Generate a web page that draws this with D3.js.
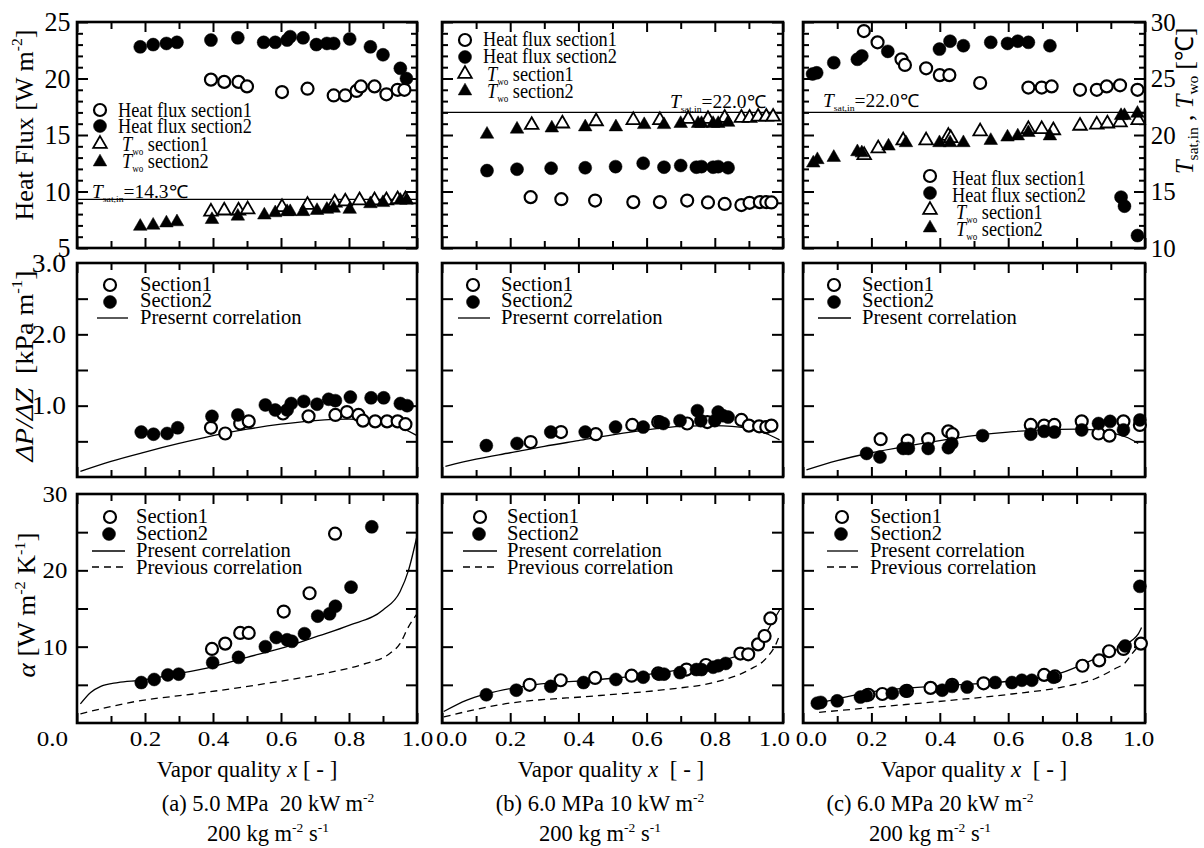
<!DOCTYPE html>
<html><head><meta charset="utf-8">
<script src="https://cdn.jsdelivr.net/npm/d3@7"></script>
<style>
body{margin:0;background:#fff;}
svg text{font-family:"Liberation Serif","Times New Roman",serif;fill:#000;white-space:pre;}
</style></head><body>
<svg id="c" width="1204" height="848" font-family="Liberation Serif"></svg>
<script>
// ================= DATA =================
const xLabels = [0.0, 0.2, 0.4, 0.6, 0.8, 1.0];
const hfTicks = [5, 10, 15, 20, 25];
const tTicks = [10, 15, 20, 25, 30];
const dpTicks = [1.0, 2.0, 3.0];
const alphaTicks = [10, 20, 30];
const tsatValues = [14.3, 22.0, 22.0];
const captionLine1 = ["(a) 5.0 MPa  20 kW m", "(b) 6.0 MPa 10 kW m", "(c) 6.0 MPa 20 kW m"];
const captionLine2 = "200 kg m";

// Row 1 : heat flux [kW m-2] (left scale 5-25) and wall temperature [C] (right scale 10-30)
const hfA1 = [[0.394,19.9],[0.433,19.7],[0.475,19.7],[0.50,19.3],[0.603,18.8],[0.678,19.1],[0.755,18.5],[0.789,18.5],[0.822,18.9],[0.835,19.3],[0.875,19.3],[0.910,18.6],[0.943,19.0],[0.963,19.0]];
const hfA2 = [[0.186,22.8],[0.224,23.0],[0.263,23.1],[0.294,23.2],[0.394,23.4],[0.473,23.6],[0.549,23.2],[0.583,23.2],[0.618,23.4],[0.627,23.7],[0.665,23.6],[0.704,23.0],[0.735,23.1],[0.755,23.1],[0.802,23.5],[0.863,22.8],[0.900,22.1],[0.951,20.9],[0.969,20.0]];
const twA1 = [[0.394,13.3],[0.433,13.4],[0.475,13.4],[0.502,13.5],[0.603,13.7],[0.678,13.9],[0.758,14.1],[0.789,14.2],[0.831,14.3],[0.875,14.3],[0.910,14.3],[0.943,14.4],[0.966,14.4]];
const twA2 = [[0.186,12.0],[0.224,12.1],[0.263,12.3],[0.294,12.4],[0.397,12.6],[0.473,12.9],[0.551,13.0],[0.583,13.2],[0.618,13.3],[0.627,13.3],[0.665,13.3],[0.706,13.4],[0.735,13.5],[0.755,13.6],[0.802,13.5],[0.863,14.0],[0.900,14.1],[0.951,14.3],[0.969,14.3]];

const hfB1 = [[0.26,9.5],[0.35,9.32],[0.449,9.2],[0.561,9.06],[0.639,9.06],[0.719,9.2],[0.78,9.03],[0.829,8.9],[0.878,8.8],[0.902,9.0],[0.932,9.06],[0.951,9.06],[0.966,9.03]];
const hfB2 = [[0.132,11.85],[0.22,11.97],[0.32,12.06],[0.42,12.1],[0.509,12.2],[0.59,12.5],[0.651,12.15],[0.70,12.3],[0.746,12.15],[0.761,12.2],[0.795,12.15],[0.81,12.2],[0.839,12.1]];
const twB1 = [[0.263,20.97],[0.353,21.1],[0.452,21.3],[0.561,21.4],[0.639,21.4],[0.722,21.5],[0.78,21.5],[0.829,21.6],[0.878,21.6],[0.902,21.6],[0.927,21.7],[0.951,21.7],[0.971,21.7]];
const twB2 = [[0.132,20.15],[0.22,20.6],[0.322,20.7],[0.42,20.8],[0.51,20.8],[0.593,21.0],[0.651,21.0],[0.70,21.1],[0.751,21.1],[0.761,21.1],[0.795,21.1],[0.81,21.1],[0.839,21.2]];

const hfC1 = [[0.178,24.2],[0.218,23.2],[0.288,21.7],[0.298,21.2],[0.36,20.9],[0.40,20.3],[0.428,20.3],[0.518,19.6],[0.659,19.2],[0.698,19.2],[0.727,19.3],[0.81,19.0],[0.859,19.0],[0.888,19.3],[0.927,19.4],[0.978,19.0]];
const hfC2 = [[0.028,20.4],[0.04,20.5],[0.09,21.4],[0.159,21.7],[0.172,22.0],[0.248,22.4],[0.399,22.6],[0.43,23.3],[0.469,22.9],[0.549,23.2],[0.598,23.1],[0.628,23.3],[0.659,23.2],[0.722,22.9],[0.93,9.5],[0.94,8.7],[0.978,6.1]];
const twC1 = [[0.179,18.3],[0.22,18.9],[0.293,19.6],[0.36,19.6],[0.425,20.0],[0.432,19.8],[0.518,20.4],[0.659,20.6],[0.698,20.6],[0.732,20.5],[0.81,20.9],[0.859,21.0],[0.89,21.1],[0.927,21.2],[0.98,21.4]];
const twC2 = [[0.03,17.6],[0.042,17.9],[0.09,18.1],[0.159,18.6],[0.172,18.5],[0.25,19.1],[0.301,19.4],[0.399,19.4],[0.43,19.4],[0.469,19.4],[0.549,19.6],[0.598,19.9],[0.628,20.0],[0.659,20.3],[0.722,20.0],[0.93,21.8],[0.94,21.8],[0.978,22.0]];

// Row 2 : pressure gradient [kPa m-1]
const dpA1 = [[0.394,0.69],[0.436,0.61],[0.48,0.75],[0.505,0.78],[0.606,0.89],[0.681,0.85],[0.76,0.87],[0.794,0.91],[0.828,0.87],[0.841,0.79],[0.877,0.78],[0.912,0.78],[0.943,0.78],[0.966,0.74]];
const dpA2 = [[0.189,0.63],[0.225,0.60],[0.265,0.61],[0.296,0.69],[0.397,0.85],[0.473,0.87],[0.554,1.01],[0.583,0.94],[0.618,0.94],[0.630,1.03],[0.667,1.06],[0.706,1.02],[0.74,1.09],[0.76,1.07],[0.804,1.12],[0.865,1.11],[0.902,1.11],[0.951,1.03],[0.971,1.0]];
const dpCorrA = [[0.01,0.08],[0.1,0.22],[0.2,0.35],[0.3,0.47],[0.4,0.58],[0.5,0.67],[0.6,0.74],[0.7,0.79],[0.8,0.81],[0.85,0.80],[0.9,0.77],[0.95,0.70],[1.0,0.58]];
const dpB1 = [[0.26,0.49],[0.349,0.63],[0.451,0.60],[0.558,0.73],[0.634,0.77],[0.719,0.75],[0.778,0.77],[0.878,0.80],[0.9,0.72],[0.93,0.71],[0.951,0.70],[0.966,0.72]];
const dpB2 = [[0.13,0.44],[0.22,0.47],[0.319,0.63],[0.42,0.63],[0.509,0.70],[0.59,0.70],[0.639,0.77],[0.649,0.75],[0.698,0.79],[0.749,0.93],[0.759,0.79],[0.8,0.79],[0.81,0.91],[0.824,0.86],[0.839,0.84]];
const dpCorrB = [[0.01,0.15],[0.1,0.25],[0.2,0.34],[0.3,0.43],[0.4,0.51],[0.5,0.59],[0.6,0.66],[0.7,0.71],[0.8,0.72],[0.85,0.71],[0.9,0.68],[0.95,0.61],[0.99,0.52]];
const dpC1 = [[0.227,0.53],[0.306,0.51],[0.366,0.53],[0.425,0.64],[0.437,0.60],[0.666,0.73],[0.705,0.72],[0.735,0.73],[0.815,0.78],[0.864,0.61],[0.896,0.58],[0.937,0.78],[0.985,0.73]];
const dpC2 = [[0.186,0.33],[0.225,0.28],[0.293,0.40],[0.308,0.40],[0.366,0.40],[0.425,0.41],[0.435,0.47],[0.525,0.58],[0.666,0.60],[0.705,0.64],[0.735,0.63],[0.815,0.66],[0.864,0.75],[0.898,0.78],[0.937,0.66],[0.985,0.80]];
const dpCorrC = [[0.01,0.10],[0.1,0.23],[0.2,0.34],[0.3,0.43],[0.4,0.51],[0.5,0.58],[0.6,0.63],[0.7,0.66],[0.8,0.67],[0.85,0.66],[0.9,0.62],[0.95,0.55],[0.98,0.47]];

// Row 3 : heat transfer coefficient
const alA1 = [[0.397,9.7],[0.436,10.4],[0.48,11.8],[0.505,11.8],[0.608,14.6],[0.684,17.0],[0.759,24.8]];
const alA2 = [[0.189,5.3],[0.227,5.7],[0.267,6.3],[0.299,6.4],[0.399,7.9],[0.475,8.6],[0.554,10.0],[0.586,11.2],[0.618,10.9],[0.632,10.7],[0.669,11.7],[0.708,14.0],[0.743,14.3],[0.76,15.3],[0.806,17.8],[0.867,25.7]];
const alPresA = [[0.01,2.5],[0.04,4.0],[0.07,4.8],[0.12,5.3],[0.19,5.6],[0.29,6.4],[0.40,7.4],[0.5,8.6],[0.61,9.9],[0.71,11.4],[0.80,12.8],[0.90,14.8],[0.95,17.2],[0.975,20],[1.0,24.5]];
const alPrevA = [[0.01,1.2],[0.17,2.8],[0.36,3.9],[0.56,5.2],[0.75,6.7],[0.85,7.8],[0.92,9.1],[0.95,10.4],[0.975,12.6],[1.0,14.3]];
const alB1 = [[0.257,5.0],[0.348,5.6],[0.449,5.9],[0.556,6.2],[0.634,6.5],[0.717,7.0],[0.774,7.6],[0.875,9.1],[0.898,9.0],[0.927,10.3],[0.946,11.4],[0.963,13.7]];
const alB2 = [[0.13,3.7],[0.218,4.3],[0.319,4.8],[0.415,5.3],[0.51,5.7],[0.59,6.0],[0.637,6.4],[0.651,6.4],[0.698,6.6],[0.746,7.0],[0.761,7.0],[0.795,7.3],[0.81,7.5],[0.832,7.8]];
const alPresB = [[0.005,1.5],[0.073,3.0],[0.13,3.8],[0.268,5.0],[0.463,5.7],[0.659,6.7],[0.805,8.0],[0.883,9.1],[0.932,10.4],[0.961,12.6],[0.99,14.8]];
const alPrevB = [[0.005,0.8],[0.17,2.4],[0.463,3.6],[0.659,4.4],[0.805,5.4],[0.902,7.0],[0.951,8.5],[0.98,10.4],[0.99,11.5]];
const alC1 = [[0.191,3.7],[0.232,3.8],[0.304,4.2],[0.373,4.6],[0.436,5.0],[0.528,5.2],[0.705,6.3],[0.737,6.1],[0.817,7.5],[0.866,8.2],[0.895,9.4],[0.937,9.7],[0.988,10.4]];
const alC2 = [[0.042,2.6],[0.052,2.7],[0.1,2.9],[0.168,3.4],[0.185,3.6],[0.261,3.9],[0.30,4.2],[0.407,4.3],[0.436,4.8],[0.48,4.7],[0.562,5.3],[0.611,5.3],[0.64,5.6],[0.669,5.6],[0.732,6.0],[0.942,10.1],[0.985,17.9]];
const alPresC = [[0.037,2.5],[0.22,4.2],[0.416,4.9],[0.611,5.5],[0.757,6.6],[0.854,8.4],[0.922,9.7],[0.961,10.8],[0.981,11.7],[0.99,12.5]];
const alPrevC = [[0.047,1.4],[0.22,2.1],[0.416,2.9],[0.611,3.8],[0.757,4.7],[0.854,5.8],[0.912,7.1],[0.942,7.9],[0.961,9.0],[0.981,10.1]];

// ================= LAYOUT =================
const FONT = '"Liberation Serif","Times New Roman",serif';
const svg = d3.select("#c");
const cols = [{l:77, r:417, cx:247, cap:268}, {l:442, r:783, cx:611, cap:600}, {l:803, r:1145, cx:974, cap:930}];
const rows = [{t:22, b:248}, {t:263, b:477}, {t:494, b:723}];

function rich(g, x, y, parts, o) {
  const size = o.size, sx = o.sx || 1;
  let tr = `translate(${x},${y})`;
  if (o.rotate) tr += ` rotate(${o.rotate})`;
  if (sx !== 1) tr += ` scale(${sx},1)`;
  const t = g.append("text").attr("transform", tr).attr("font-size", size)
    .attr("font-family", FONT).attr("text-anchor", o.anchor || "start");
  let shift = 0;
  parts.forEach(p => {
    const ts = t.append("tspan").text(p.t);
    let target = 0;
    if (p.sup) target = -size * 0.42; else if (p.sub) target = size * 0.2;
    if (target - shift !== 0) ts.attr("dy", target - shift);
    shift = target;
    if (p.sup || p.sub) ts.attr("font-size", size * (p.scale || 0.6));
    if (p.it) ts.attr("font-style", "italic");
  });
  return t;
}

function styleTicks(sel, size, sx) {
  sel.attr("font-family", FONT);
  sel.select(".domain").remove();
  sel.selectAll(".tick line").attr("stroke", "#000").attr("stroke-width", 2);
  sel.selectAll(".tick text").attr("font-size", size).attr("fill", "#000")
    .attr("font-family", FONT)
    .attr("transform", `scale(${sx},1)`);
}

const majorX = [0, 0.2, 0.4, 0.6, 0.8, 1.0];
const minorX = [0.1, 0.3, 0.5, 0.7, 0.9];
const lineGen = (x, y) => d3.line().x(d => x(d[0])).y(d => y(d[1])).curve(d3.curveMonotoneX);

function drawFrameAndTicks(g, x, y, rw, yMajor, yMinor, yMajLen, showX) {
  const xb = g.append("g").attr("transform", `translate(0,${rw.b})`)
    .call(d3.axisBottom(x).tickValues(majorX).tickSize(-10).tickPadding(7)
      .tickFormat(showX ? d3.format(".1f") : ""));
  styleTicks(xb, 22, 1.14);
  g.append("g").attr("transform", `translate(0,${rw.b})`)
    .call(d3.axisBottom(x).tickValues(minorX).tickSize(-7).tickFormat("")).call(s => styleTicks(s, 1, 1));
  g.append("g").attr("transform", `translate(0,${rw.t})`)
    .call(d3.axisTop(x).tickValues(majorX).tickSize(-10).tickFormat("")).call(s => styleTicks(s, 1, 1));
  g.append("g").attr("transform", `translate(0,${rw.t})`)
    .call(d3.axisTop(x).tickValues(minorX).tickSize(-7).tickFormat("")).call(s => styleTicks(s, 1, 1));
  const x0 = x.range()[0], x1 = x.range()[1];
  g.append("g").attr("transform", `translate(${x0},0)`)
    .call(d3.axisLeft(y).tickValues(yMajor).tickSize(-yMajLen).tickFormat("")).call(s => styleTicks(s, 1, 1));
  g.append("g").attr("transform", `translate(${x1},0)`)
    .call(d3.axisRight(y).tickValues(yMajor).tickSize(-yMajLen).tickFormat("")).call(s => styleTicks(s, 1, 1));
  if (yMinor) {
    g.append("g").attr("transform", `translate(${x0},0)`)
      .call(d3.axisLeft(y).tickValues(yMinor).tickSize(-6).tickFormat("")).call(s => styleTicks(s, 1, 1));
    g.append("g").attr("transform", `translate(${x1},0)`)
      .call(d3.axisRight(y).tickValues(yMinor).tickSize(-6).tickFormat("")).call(s => styleTicks(s, 1, 1));
  }
  g.append("rect").attr("x", x0).attr("y", rw.t).attr("width", x1 - x0).attr("height", rw.b - rw.t)
    .attr("fill", "none").attr("stroke", "#000").attr("stroke-width", 2.6);
  return xb;
}

const triPath = d3.symbol(d3.symbolTriangle, 80)();
function circles(g, data, x, y, filled) {
  g.append("g").selectAll("circle").data(data).join("circle")
    .attr("cx", d => x(d[0])).attr("cy", d => y(d[1])).attr("r", filled ? 6.5 : 6)
    .attr("fill", filled ? "#000" : "#fff").attr("stroke", "#000").attr("stroke-width", filled ? 0.5 : 2.2);
}
function triangles(g, data, x, y, filled) {
  g.append("g").selectAll("path").data(data).join("path")
    .attr("d", triPath).attr("transform", d => `translate(${x(d[0])},${y(d[1]) + 1})`)
    .attr("fill", filled ? "#000" : "#fff").attr("stroke", "#000").attr("stroke-width", filled ? 0.5 : 1.8);
}
function legCircle(g, cx, cy, filled) {
  g.append("circle").attr("cx", cx).attr("cy", cy).attr("r", filled ? 6.5 : 6)
    .attr("fill", filled ? "#000" : "#fff").attr("stroke", "#000").attr("stroke-width", filled ? 0.5 : 2.2);
}
function legTri(g, cx, cy, filled) {
  g.append("path").attr("d", triPath).attr("transform", `translate(${cx},${cy})`)
    .attr("fill", filled ? "#000" : "#fff").attr("stroke", "#000").attr("stroke-width", filled ? 0.5 : 1.8);
}

// ================= ROW 1 =================
const row1 = [
  {hf1: hfA1, hf2: hfA2, tw1: twA1, tw2: twA2, leg: {mx:100, my:[110,126,144,162], tx:118, ty:[117,133,151,168]}, ts: {x:92, y:198}},
  {hf1: hfB1, hf2: hfB2, tw1: twB1, tw2: twB2, leg: {mx:465, my:[40,57,74,91], tx:483, ty:[46,63,81,98]}, ts: {x:670, y:108}},
  {hf1: hfC1, hf2: hfC2, tw1: twC1, tw2: twC2, leg: {mx:930, my:[176,193,210,228], tx:952, ty:[185,202,219,236]}, ts: {x:823, y:107}}
];
row1.forEach((p, i) => {
  const c = cols[i], rw = rows[0];
  const g = svg.append("g");
  const x = d3.scaleLinear([0, 1], [c.l, c.r]);
  const yH = d3.scaleLinear([5, 25], [rw.b, rw.t]);
  const yT = d3.scaleLinear([10, 30], [rw.b, rw.t]);
  drawFrameAndTicks(g, x, yH, rw, hfTicks, d3.range(6, 25).filter(v => v % 5 !== 0), 11, false);
  g.append("line").attr("x1", c.l).attr("x2", c.r).attr("y1", yT(tsatValues[i])).attr("y2", yT(tsatValues[i]))
    .attr("stroke", "#000").attr("stroke-width", 1.3);
  rich(g, p.ts.x, p.ts.y, [{t:"T", it:true}, {t:"sat,in", sub:true, scale:0.5}, {t:"=" + tsatValues[i].toFixed(1) + "℃"}], {size:18, sx:1.08});
  triangles(g, p.tw1, x, yT, false);
  triangles(g, p.tw2, x, yT, true);
  circles(g, p.hf1, x, yH, false);
  circles(g, p.hf2, x, yH, true);
  const L = p.leg;
  legCircle(g, L.mx, L.my[0], false);
  legCircle(g, L.mx, L.my[1], true);
  legTri(g, L.mx, L.my[2], false);
  legTri(g, L.mx, L.my[3], true);
  rich(g, L.tx, L.ty[0], [{t:"Heat flux section1"}], {size:22, sx:0.83});
  rich(g, L.tx, L.ty[1], [{t:"Heat flux section2"}], {size:22, sx:0.83});
  rich(g, L.tx + 4, L.ty[2], [{t:"T", it:true}, {t:"wo", sub:true, scale:0.5}, {t:" section1"}], {size:22, sx:0.83});
  rich(g, L.tx + 4, L.ty[3], [{t:"T", it:true}, {t:"wo", sub:true, scale:0.5}, {t:" section2"}], {size:22, sx:0.83});
  if (i === 0) {
    const ax = g.append("g").attr("transform", `translate(${c.l},0)`)
      .call(d3.axisLeft(yH).tickValues(hfTicks).tickSize(0).tickPadding(7).tickFormat(d3.format("d")));
    styleTicks(ax, 28, 0.93);
  }
  if (i === 2) {
    const ax = g.append("g").attr("transform", `translate(${c.r},0)`)
      .call(d3.axisRight(yT).tickValues(tTicks).tickSize(0).tickPadding(6).tickFormat(d3.format("d")));
    styleTicks(ax, 26, 0.96);
  }
});

// ================= ROW 2 =================
const row2 = [
  {s1: dpA1, s2: dpA2, corr: dpCorrA, leg: {mx:110, lx:[97,128], tx:140}, corrName: "Presernt correlation"},
  {s1: dpB1, s2: dpB2, corr: dpCorrB, leg: {mx:473, lx:[458,490], tx:501}, corrName: "Presernt correlation"},
  {s1: dpC1, s2: dpC2, corr: dpCorrC, leg: {mx:834, lx:[818,851], tx:862}, corrName: "Present correlation"}
];
row2.forEach((p, i) => {
  const c = cols[i], rw = rows[1];
  const g = svg.append("g");
  const x = d3.scaleLinear([0, 1], [c.l, c.r]);
  const y = d3.scaleLinear([0, 3], [rw.b, rw.t]);
  drawFrameAndTicks(g, x, y, rw, [0.5, 1.0, 1.5, 2.0, 2.5], null, 11, false);
  g.append("path").attr("d", lineGen(x, y)(p.corr)).attr("fill", "none").attr("stroke", "#000").attr("stroke-width", 1.3);
  circles(g, p.s1, x, y, false);
  circles(g, p.s2, x, y, true);
  const L = p.leg;
  legCircle(g, L.mx, 285, false);
  legCircle(g, L.mx, 302, true);
  g.append("line").attr("x1", L.lx[0]).attr("x2", L.lx[1]).attr("y1", 318).attr("y2", 318).attr("stroke", "#000").attr("stroke-width", 1.3);
  rich(g, L.tx, 291, [{t:"Section1"}], {size:21, sx:0.98});
  rich(g, L.tx, 307, [{t:"Section2"}], {size:21, sx:0.98});
  rich(g, L.tx, 324, [{t:p.corrName}], {size:21, sx:0.98});
  if (i === 0) {
    const ax = g.append("g").attr("transform", `translate(${c.l},0)`)
      .call(d3.axisLeft(y).tickValues(dpTicks).tickSize(0).tickPadding(10).tickFormat(d3.format(".1f")));
    styleTicks(ax, 25, 1.1);
  }
});

// ================= ROW 3 =================
const row3 = [
  {s1: alA1, s2: alA2, pres: alPresA, prev: alPrevA, leg: {mx:110, lx:[92,125], tx:136}},
  {s1: alB1, s2: alB2, pres: alPresB, prev: alPrevB, leg: {mx:480, lx:[463,497], tx:507}},
  {s1: alC1, s2: alC2, pres: alPresC, prev: alPrevC, leg: {mx:842, lx:[827,858], tx:870}}
];
const xLabelShift = [[-22, 0], [8, -8], [7, -6]];
row3.forEach((p, i) => {
  const c = cols[i], rw = rows[2];
  const g = svg.append("g");
  const x = d3.scaleLinear([0, 1], [c.l, c.r]);
  const y = d3.scaleLinear([0, 30], [rw.b, rw.t]);
  const xb = drawFrameAndTicks(g, x, y, rw, [5, 10, 15, 20, 25], null, 11, true);
  xb.selectAll(".tick text").attr("dx", d => d === 0 ? xLabelShift[i][0] : d === 1 ? xLabelShift[i][1] : 0);
  g.append("path").attr("d", lineGen(x, y)(p.pres)).attr("fill", "none").attr("stroke", "#000").attr("stroke-width", 1.3);
  g.append("path").attr("d", lineGen(x, y)(p.prev)).attr("fill", "none").attr("stroke", "#000").attr("stroke-width", 1.3).attr("stroke-dasharray", "7,5");
  circles(g, p.s1, x, y, false);
  circles(g, p.s2, x, y, true);
  const L = p.leg;
  legCircle(g, L.mx, 517, false);
  legCircle(g, L.mx - 1, 534, true);
  g.append("line").attr("x1", L.lx[0]).attr("x2", L.lx[1]).attr("y1", 551).attr("y2", 551).attr("stroke", "#000").attr("stroke-width", 1.3);
  g.append("line").attr("x1", L.lx[0]).attr("x2", L.lx[1]).attr("y1", 567).attr("y2", 567).attr("stroke", "#000").attr("stroke-width", 1.3).attr("stroke-dasharray", "7,5");
  rich(g, L.tx, 523, [{t:"Section1"}], {size:21, sx:0.98});
  rich(g, L.tx, 540, [{t:"Section2"}], {size:21, sx:0.98});
  rich(g, L.tx, 557, [{t:"Present correlation"}], {size:21, sx:0.98});
  rich(g, L.tx, 574, [{t:"Previous correlation"}], {size:21, sx:0.98});
  if (i === 0) {
    const ax = g.append("g").attr("transform", `translate(${c.l},0)`)
      .call(d3.axisLeft(y).tickValues(alphaTicks).tickSize(0).tickPadding(9).tickFormat(d3.format("d")));
    styleTicks(ax, 23, 1.08);
  }
  rich(svg, c.cx, 777, [{t:"Vapor quality "}, {t:"x", it:true}, {t: i === 0 ? " [ - ]" : "  [ - ]"}], {size:23, anchor:"middle"});
  rich(svg, c.cap, 811, [{t:captionLine1[i]}, {t:"-2", sup:true}], {size:22.5, anchor:"middle"});
  rich(svg, c.cap, 841, [{t:captionLine2}, {t:"-2", sup:true}, {t:" s"}, {t:"-1", sup:true}], {size:22.5, anchor:"middle"});
});

// ================= AXIS TITLES =================
rich(svg, 33, 125, [{t:"Heat Flux [W m"}, {t:"-2", sup:true}, {t:"]"}], {size:26, rotate:-90, anchor:"middle"});
rich(svg, 33, 366, [{t:"ΔP/ΔZ", it:true}, {t:"  [kPa m"}, {t:"-1", sup:true}, {t:"]"}], {size:26, rotate:-90, anchor:"middle", sx:1.08});
rich(svg, 35, 605, [{t:"α", it:true}, {t:" [W m"}, {t:"-2", sup:true}, {t:" K"}, {t:"-1", sup:true}, {t:"]"}], {size:25, rotate:-90, anchor:"middle", sx:1.08});
rich(svg, 1193, 101, [{t:"T", it:true}, {t:"sat,in", sub:true, scale:0.62}, {t:" , "}, {t:"T", it:true}, {t:"wo", sub:true, scale:0.62}, {t:" [℃]"}], {size:25, rotate:-90, anchor:"middle"});
</script>
</body></html>
